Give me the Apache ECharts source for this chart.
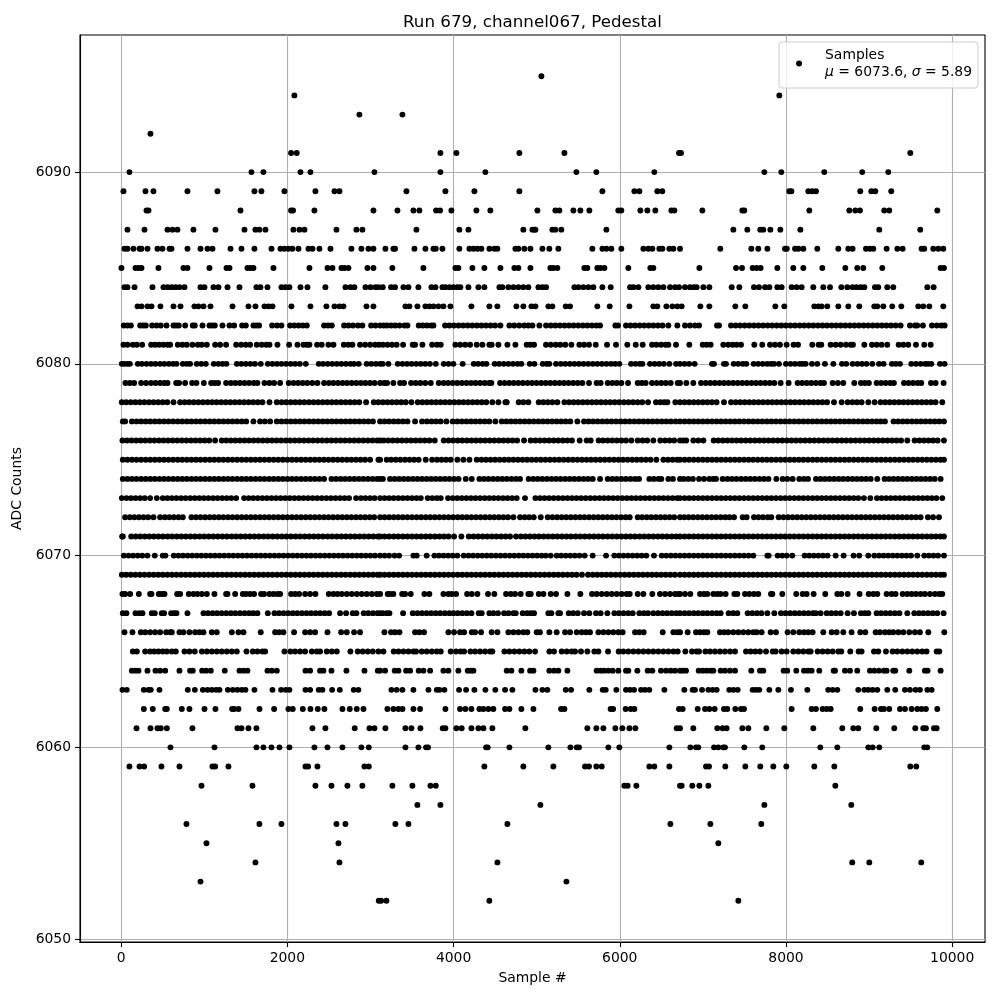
<!DOCTYPE html>
<html><head><meta charset="utf-8">
<style>html,body{margin:0;padding:0;background:#fff}#c{width:1000px;height:1000px}</style>
<script src="https://cdn.jsdelivr.net/npm/echarts@6/dist/echarts.min.js"></script>
</head><body><div id="c"></div>
<script>
const yTicks=[6050,6060,6070,6080,6090];
const xTicks=[0,2000,4000,6000,8000,10000];
const s6095=[5057];
const s6094=[2085,7920];
const s6093=[2867,3385];
const s6092=[353];
const s6091=[2045,2113,3842,4034,4792,5334,6713,6737,9496];
const s6090=[100,1568,1712,2158,2278,3048,3842,4383,5478,5718,6416,7740,7944,8461,8918,9231];
const s6089=[28,293,389,798,1159,1604,1688,1965,2338,2567,2627,3433,3902,4251,4792,5791,6176,6236,6452,6512,8040,8065,8269,8317,8361,8894,9027,9075,9267];
const s6088=[305,329,1436,2045,2069,2326,3036,3325,3517,3589,3790,3838,3974,4275,4443,5009,5225,5273,5442,5526,5634,5983,6019,6248,6332,6428,6621,6657,6994,7475,7499,8281,8762,8834,8890,9183,9243,9821];
const s6087=[76,281,558,618,678,870,1135,1484,1616,1664,1737,2073,2146,2206,2591,2831,2903,3553,4070,4179,4840,4949,4973,4985,5189,5225,5297,5839,7367,7535,7691,7727,7812,7932,8173,9123,9616];
const s6086=[40,76,148,221,245,317,437,497,582,606,798,955,1039,1099,1316,1448,1604,1809,1917,1965,2013,2061,2134,2254,2302,2386,2519,2771,2891,2976,3036,3180,3276,3296,3529,3661,3758,3786,3866,4070,4191,4239,4287,4335,4431,4491,4527,4744,4780,4852,4925,5069,5153,5261,5670,5791,5839,5899,6019,6284,6344,6392,6476,6513,6597,6645,6725,7210,7583,7667,7776,7988,8010,8109,8149,8209,8377,8630,8750,8802,8963,9011,9051,9211,9340,9404,9632,9664,9773,9833,9893];
const s6085=[4,173,209,245,449,750,798,1063,1268,1304,1520,1556,1592,1833,2266,2483,2543,2651,2687,2735,2964,3036,3264,3637,4022,4058,4227,4371,4564,4732,4780,4925,5165,5201,5249,5574,5610,5730,5767,5815,6103,6368,6404,6958,7399,7471,7599,7647,7695,7896,8088,8209,8437,8714,8858,8930,9159,9861,9901];
const s6084=[40,76,161,377,509,558,606,654,702,762,955,1003,1111,1171,1280,1424,1628,1676,1761,1929,1977,2025,2158,2242,2458,2699,2759,2807,2940,3000,3060,3096,3148,3248,3296,3397,3457,3577,3734,3782,3866,3902,3950,3998,4046,4082,4179,4299,4371,4552,4588,4660,4720,4780,4840,4900,5021,5069,5113,5454,5502,5562,5622,5682,5791,5891,6124,6164,6224,6344,6404,6464,6525,6605,6665,6713,6785,6845,6893,6925,7006,7078,7347,7439,7615,7675,7748,7800,7896,7948,8068,8128,8189,8329,8449,8530,8666,8738,8802,8850,8898,8943,9071,9111,9219,9291,9701,9777];
const s6083=[197,245,317,365,473,630,714,882,930,991,1075,1340,1532,1616,1725,1773,1821,2049,2278,2470,2567,2627,2675,2952,3036,3421,3469,3565,3661,3710,3758,3818,3878,3962,4215,4431,4527,4756,4840,4937,4985,5141,5189,5350,5402,5730,5879,6116,6404,6452,6561,6633,6693,6745,6970,7078,7391,7511,7872,7980,8341,8389,8429,8497,8630,8750,8882,9063,9099,9171,9279,9388,9592,9652,9725,9893];
const s6082=[32,75,117,229,265,297,373,425,477,546,630,660,694,770,862,886,979,1063,1095,1127,1219,1304,1360,1456,1500,1592,1625,1660,1817,1875,1929,2033,2085,2135,2185,2234,2442,2490,2535,2683,2735,2790,2850,2903,3008,3060,3116,3160,3200,3250,3300,3350,3410,3445,3581,3630,3680,3730,3758,3898,3950,4005,4060,4115,4170,4225,4280,4335,4390,4445,4500,4564,4672,4730,4790,4850,4900,4949,5033,5113,5170,5225,5280,5335,5390,5445,5500,5555,5610,5665,5720,5763,5947,5979,6075,6130,6185,6240,6295,6350,6405,6460,6515,6585,6693,6785,6845,6905,6954,7170,7194,7339,7395,7450,7505,7560,7615,7670,7725,7780,7835,7890,7945,8000,8055,8110,8165,8220,8275,8330,8385,8440,8495,8550,8605,8660,8715,8770,8825,8880,8935,8990,9045,9100,9155,9210,9265,9320,9380,9492,9552,9580,9648,9757,9815,9870,9909];
const s6081=[28,76,141,189,253,361,409,457,509,558,590,682,738,790,858,923,971,1031,1131,1191,1263,1384,1444,1500,1552,1632,1692,1745,1785,1881,2021,2122,2194,2234,2266,2358,2414,2495,2555,2679,2735,2783,2875,2936,2996,3056,3104,3150,3205,3260,3315,3393,3509,3537,3625,3742,3800,3846,4022,4080,4140,4199,4279,4347,4431,4459,4540,4648,4744,4880,4925,4969,5113,5170,5230,5285,5345,5418,5514,5570,5630,5711,5847,5955,6091,6192,6276,6388,6440,6495,6550,6585,6677,6837,6998,7046,7094,7246,7306,7359,7407,7459,7619,7715,7808,7868,7928,8008,8092,8145,8317,8393,8425,8537,8598,8658,8722,8778,8806,8943,9035,9091,9151,9219,9356,9412,9472,9564,9664,9741];
const s6080=[8,40,75,105,200,250,305,360,412,468,520,575,625,666,742,790,830,910,965,1019,1115,1170,1222,1267,1392,1445,1500,1555,1610,1680,1765,1820,1875,1930,1985,2040,2095,2150,2222,2378,2430,2485,2540,2595,2650,2705,2760,2803,2859,2955,3010,3065,3116,3148,3216,3329,3385,3440,3495,3550,3605,3660,3715,3786,3882,3940,3998,4110,4243,4295,4350,4395,4495,4550,4605,4660,4715,4770,4816,4917,4973,5073,5120,5153,5233,5290,5345,5400,5455,5510,5565,5620,5675,5730,5785,5840,5895,5945,5995,6136,6190,6240,6272,6364,6420,6475,6530,6597,6677,6725,6780,6835,6901,7110,7134,7254,7278,7371,7425,7480,7523,7611,7665,7720,7775,7820,7856,7916,8000,8055,8110,8165,8200,8237,8313,8377,8469,8570,8674,8726,8802,8860,8915,8970,9039,9119,9175,9275,9323,9372,9508,9565,9620,9675,9710,9749,9853,9909];
const s6079=[52,105,157,241,300,360,415,470,520,558,662,698,770,854,906,995,1083,1125,1167,1263,1320,1375,1430,1485,1540,1595,1640,1725,1785,1841,1913,2017,2075,2130,2185,2240,2300,2362,2442,2500,2555,2610,2665,2720,2775,2830,2885,2940,2995,3050,3116,3165,3200,3276,3357,3405,3489,3545,3600,3660,3726,3822,3880,3935,3990,4045,4100,4155,4210,4265,4320,4375,4430,4455,4560,4615,4670,4725,4780,4835,4890,4945,5000,5055,5110,5165,5220,5275,5330,5385,5440,5495,5550,5630,5722,5770,5855,5910,5965,6020,6100,6216,6265,6312,6388,6445,6500,6555,6613,6697,6725,6801,6885,6978,7035,7090,7145,7200,7255,7310,7365,7420,7475,7530,7585,7640,7695,7750,7805,7860,7936,8032,8140,8195,8250,8305,8360,8415,8457,8562,8625,8690,8822,8902,8950,8998,9091,9145,9200,9255,9299,9420,9475,9530,9585,9628,9745,9801,9897];
const s6078=[8,60,115,170,225,280,335,390,445,500,555,630,710,765,820,875,930,985,1040,1095,1150,1205,1260,1315,1370,1425,1480,1535,1590,1645,1700,1785,1873,1930,1985,2040,2095,2150,2205,2260,2315,2370,2425,2480,2535,2590,2645,2700,2755,2810,2865,2948,3040,3095,3150,3205,3260,3315,3370,3425,3493,3569,3625,3680,3735,3790,3845,3900,3955,4010,4065,4120,4175,4230,4285,4340,4395,4467,4540,4624,4640,4784,4840,4900,5025,5080,5135,5190,5249,5334,5390,5445,5500,5555,5610,5665,5720,5775,5830,5885,5940,5995,6050,6105,6160,6215,6270,6340,6436,6490,6535,6573,6669,6725,6780,6835,6890,6945,7000,7055,7110,7165,7254,7339,7395,7450,7505,7560,7615,7670,7725,7780,7835,7890,7945,8000,8055,8110,8165,8220,8275,8330,8385,8440,8495,8578,8670,8742,8800,8855,8910,8991,9067,9139,9195,9250,9305,9360,9415,9470,9525,9580,9635,9690,9745,9800,9881];
const s6077=[20,48,129,185,240,295,350,405,460,515,570,625,680,735,790,845,900,955,1010,1065,1120,1175,1230,1285,1340,1395,1450,1505,1592,1672,1730,1793,1873,1930,1985,2040,2095,2150,2205,2260,2315,2370,2425,2480,2535,2590,2645,2700,2755,2810,2865,2920,2975,3030,3116,3170,3225,3280,3335,3390,3445,3537,3621,3680,3735,3790,3845,3914,3990,4045,4100,4155,4210,4265,4320,4375,4430,4503,4580,4635,4690,4745,4800,4855,4910,4965,5020,5075,5130,5185,5240,5295,5350,5405,5490,5570,5625,5680,5735,5790,5845,5900,5955,6010,6065,6120,6175,6230,6285,6340,6395,6450,6505,6560,6615,6673,6725,6780,6835,6890,6945,7000,7055,7110,7165,7220,7275,7330,7385,7440,7495,7550,7605,7660,7715,7770,7825,7880,7935,7990,8045,8100,8155,8210,8265,8320,8375,8430,8485,8540,8595,8650,8705,8760,8815,8870,8925,8980,9035,9090,9140,9191,9295,9350,9405,9460,9515,9570,9625,9680,9735,9790,9845,9901];
const s6076=[16,70,125,180,235,290,345,400,455,510,565,620,675,730,785,840,895,950,1005,1060,1131,1211,1265,1320,1375,1430,1485,1540,1595,1650,1705,1760,1815,1870,1925,1980,2035,2090,2145,2200,2255,2310,2365,2420,2475,2530,2585,2640,2695,2750,2805,2860,2915,2970,3025,3080,3116,3160,3215,3270,3325,3380,3435,3490,3545,3600,3655,3710,3774,3882,3940,3995,4050,4105,4160,4215,4270,4325,4380,4435,4490,4545,4600,4655,4710,4765,4848,4928,4985,5040,5095,5150,5205,5260,5315,5370,5425,5518,5602,5650,5746,5800,5855,5910,5965,6020,6075,6140,6216,6275,6330,6404,6488,6545,6600,6655,6725,6765,6800,6885,6945,7006,7130,7185,7240,7295,7350,7405,7460,7515,7570,7625,7680,7735,7790,7845,7900,7955,8010,8065,8120,8175,8230,8285,8340,8395,8450,8505,8560,8615,8670,8725,8780,8835,8890,8945,9000,9055,9110,9165,9220,9275,9330,9385,9460,9548,9605,9660,9715,9770,9825,9901];
const s6075=[20,75,130,185,240,295,350,405,460,515,570,625,680,735,790,845,900,955,1010,1065,1120,1175,1230,1285,1340,1395,1450,1505,1560,1615,1670,1725,1780,1835,1890,1945,2000,2055,2110,2165,2220,2275,2330,2385,2440,2495,2550,2605,2660,2715,2770,2825,2880,2935,2996,3096,3116,3196,3250,3305,3360,3415,3470,3525,3580,3665,3742,3800,3855,3910,3965,4046,4118,4191,4279,4335,4390,4445,4500,4555,4610,4665,4720,4775,4830,4885,4940,4995,5050,5105,5160,5215,5270,5325,5380,5435,5490,5545,5600,5655,5710,5765,5820,5875,5930,5985,6040,6095,6150,6205,6260,6315,6370,6440,6525,6580,6635,6690,6725,6780,6835,6890,6945,7000,7055,7110,7165,7220,7275,7330,7385,7440,7495,7550,7605,7660,7715,7770,7825,7880,7935,7990,8045,8100,8155,8210,8265,8320,8375,8430,8485,8540,8595,8650,8705,8760,8815,8870,8925,8980,9035,9090,9145,9200,9255,9310,9365,9420,9475,9530,9585,9640,9695,9750,9805,9860,9901];
const s6074=[20,75,130,185,240,295,350,405,460,515,570,625,680,735,790,845,900,955,1010,1065,1120,1175,1230,1285,1340,1395,1450,1505,1560,1615,1670,1725,1780,1835,1890,1945,2000,2055,2110,2165,2220,2275,2330,2385,2442,2531,2585,2640,2695,2750,2805,2860,2915,2970,3025,3080,3116,3150,3236,3290,3345,3400,3455,3510,3565,3620,3675,3730,3785,3840,3895,3950,4005,4060,4147,4219,4311,4365,4420,4475,4530,4585,4640,4695,4750,4800,4904,4960,5015,5070,5125,5180,5235,5290,5345,5400,5455,5510,5565,5620,5675,5763,5855,5910,5965,6020,6075,6130,6185,6232,6356,6410,6465,6500,6585,6640,6725,6769,6825,6880,6954,7014,7078,7125,7158,7238,7295,7350,7405,7460,7515,7570,7625,7680,7735,7790,7884,7960,8016,8080,8160,8215,8265,8361,8415,8470,8525,8580,8635,8690,8745,8800,8855,8910,8965,9020,9099,9187,9240,9295,9350,9405,9460,9515,9570,9625,9680,9735,9790,9861];
const s6073=[8,65,120,175,230,285,349,429,501,555,610,665,720,775,830,885,940,995,1050,1105,1160,1215,1270,1325,1384,1480,1535,1590,1645,1700,1755,1810,1865,1920,1975,2030,2085,2140,2195,2250,2305,2360,2415,2470,2525,2580,2635,2690,2743,2827,2885,2940,2995,3050,3116,3170,3225,3280,3335,3390,3445,3500,3555,3606,3689,3745,3800,3846,3934,3990,4045,4100,4155,4210,4265,4320,4375,4430,4485,4540,4595,4650,4705,4760,4860,4985,5040,5095,5150,5205,5260,5315,5370,5425,5480,5535,5590,5645,5700,5755,5810,5865,5920,5975,6030,6085,6140,6195,6250,6305,6360,6415,6470,6525,6580,6635,6690,6725,6780,6835,6890,6945,7000,7055,7110,7165,7220,7275,7330,7385,7440,7495,7550,7605,7660,7715,7770,7825,7880,7935,7990,8045,8100,8155,8210,8265,8320,8375,8430,8485,8540,8595,8650,8705,8760,8815,8870,8938,9015,9095,9150,9205,9260,9315,9370,9425,9480,9535,9590,9645,9700,9755,9810,9881];
const s6072=[48,105,160,215,270,325,389,469,525,580,635,690,742,846,900,955,1010,1065,1120,1175,1230,1285,1340,1395,1450,1505,1560,1615,1670,1725,1780,1835,1890,1945,2000,2055,2110,2165,2220,2275,2330,2385,2440,2495,2550,2605,2660,2715,2770,2825,2880,2935,2990,3045,3116,3170,3225,3280,3335,3390,3445,3500,3555,3610,3665,3720,3775,3830,3885,3940,3995,4050,4105,4160,4215,4270,4325,4380,4435,4490,4545,4600,4655,4720,4800,4855,4910,4965,5049,5133,5190,5245,5300,5355,5410,5465,5520,5575,5630,5685,5740,5795,5850,5905,5960,6015,6070,6120,6216,6270,6325,6380,6435,6490,6545,6600,6655,6725,6777,6830,6885,6940,6995,7050,7105,7160,7215,7270,7320,7375,7479,7527,7615,7670,7725,7780,7824,7912,7970,8025,8080,8135,8190,8245,8300,8355,8410,8465,8520,8575,8630,8685,8740,8795,8850,8905,8960,9015,9070,9125,9180,9235,9290,9345,9400,9455,9510,9565,9620,9708,9770,9841];
const s6071=[12,20,121,175,230,285,340,395,450,505,560,615,670,725,780,835,890,945,1000,1055,1110,1165,1220,1275,1330,1385,1440,1495,1550,1605,1660,1715,1770,1825,1880,1935,1990,2045,2100,2155,2210,2265,2320,2375,2430,2485,2540,2595,2650,2705,2760,2815,2870,2925,2980,3035,3090,3116,3170,3225,3280,3335,3390,3445,3500,3555,3610,3665,3720,3775,3830,3885,3940,4006,4094,4183,4240,4295,4350,4405,4460,4515,4570,4625,4680,4752,4810,4865,4920,4975,5030,5085,5140,5195,5250,5305,5360,5415,5470,5525,5580,5635,5690,5745,5800,5855,5910,5965,6020,6075,6130,6185,6240,6295,6350,6405,6460,6515,6570,6625,6680,6725,6780,6835,6890,6945,7000,7055,7110,7165,7220,7275,7330,7385,7440,7495,7550,7605,7660,7715,7770,7825,7880,7935,7990,8045,8100,8155,8210,8265,8320,8375,8430,8485,8540,8595,8650,8705,8760,8815,8870,8925,8980,9035,9090,9145,9200,9255,9310,9365,9420,9475,9530,9585,9640,9695,9750,9805,9860,9901];
const s6070=[32,90,145,200,255,317,405,501,533,634,690,745,800,855,910,965,1020,1075,1130,1185,1240,1295,1350,1405,1460,1515,1570,1625,1680,1735,1790,1845,1900,1955,2010,2065,2120,2175,2230,2285,2340,2395,2450,2505,2560,2615,2670,2725,2780,2835,2890,2945,3000,3055,3116,3170,3225,3290,3345,3517,3557,3677,3770,3825,3880,3935,3990,4046,4122,4180,4235,4290,4345,4400,4455,4510,4565,4620,4675,4730,4785,4840,4895,4950,5005,5060,5109,5169,5241,5295,5350,5405,5460,5515,5578,5674,5835,5935,5990,6045,6100,6155,6210,6265,6320,6412,6505,6560,6615,6670,6725,6780,6835,6890,6945,7000,7055,7110,7165,7220,7275,7330,7385,7440,7495,7550,7607,7776,7792,7900,7955,8010,8076,8225,8280,8335,8390,8445,8500,8598,8694,8814,8882,8991,9063,9120,9175,9230,9285,9340,9395,9450,9505,9580,9664,9720,9775,9830,9901];
const s6069=[8,60,115,170,225,280,335,390,445,500,555,610,665,720,775,830,885,940,995,1050,1105,1160,1215,1270,1325,1380,1435,1490,1545,1600,1655,1710,1765,1820,1875,1930,1985,2040,2095,2150,2205,2260,2315,2370,2425,2480,2535,2590,2645,2700,2755,2810,2865,2920,2975,3030,3085,3116,3170,3225,3280,3335,3390,3445,3500,3555,3610,3665,3720,3775,3830,3885,3940,3995,4050,4105,4160,4215,4270,4325,4380,4435,4490,4545,4600,4655,4710,4765,4820,4875,4930,4985,5040,5095,5150,5205,5260,5315,5370,5425,5480,5545,5618,5675,5730,5785,5840,5895,5950,6005,6060,6115,6170,6225,6280,6335,6390,6445,6500,6555,6610,6665,6725,6780,6835,6890,6945,7000,7055,7110,7165,7220,7275,7330,7385,7440,7495,7550,7605,7660,7715,7770,7825,7880,7935,7990,8045,8100,8155,8210,8265,8320,8375,8430,8485,8540,8595,8650,8705,8760,8815,8870,8925,8980,9035,9090,9145,9200,9255,9310,9365,9420,9475,9530,9585,9640,9695,9750,9805,9860,9901];
const s6068=[16,48,108,213,349,365,453,489,522,674,710,814,870,918,971,1031,1123,1263,1280,1372,1464,1504,1552,1600,1684,1720,1785,1833,1881,1913,2045,2093,2142,2214,2274,2338,2499,2555,2603,2655,2715,2775,2835,2895,2955,3016,3076,3116,3208,3236,3276,3381,3417,3485,3649,3709,3878,3938,3978,4030,4163,4219,4287,4415,4491,4632,4688,4740,4808,4900,4929,5025,5081,5169,5233,5370,5526,5666,5722,5783,5843,5903,5963,6023,6083,6120,6216,6284,6392,6484,6545,6605,6665,6705,6725,6785,6849,6966,7014,7054,7126,7174,7214,7274,7379,7415,7507,7559,7615,7667,7820,7836,7956,8124,8201,8249,8333,8473,8618,8666,8742,8886,8995,9051,9099,9211,9271,9319,9404,9460,9512,9564,9620,9672,9733,9793,9845,9881];
const s6067=[20,64,173,221,257,369,405,489,517,602,638,666,798,991,1045,1100,1155,1210,1265,1320,1375,1430,1485,1540,1590,1640,1765,1845,1900,1955,2010,2065,2120,2175,2230,2285,2340,2395,2450,2503,2635,2707,2787,2831,2919,2975,3030,3085,3116,3148,3196,3228,3393,3509,3565,3620,3675,3730,3785,3840,3895,3950,3999,4050,4105,4160,4215,4303,4339,4431,4480,4535,4608,4660,4720,4748,4832,4885,4930,4969,5141,5177,5261,5281,5386,5440,5495,5570,5634,5714,5770,5851,5935,5990,6045,6103,6156,6236,6290,6340,6404,6460,6515,6570,6625,6680,6725,6780,6835,6890,6945,7000,7055,7110,7165,7214,7310,7365,7415,7539,7595,7650,7705,7776,7860,7940,7995,8050,8105,8160,8215,8270,8325,8357,8417,8490,8545,8600,8658,8742,8818,8902,8950,8991,9091,9145,9200,9255,9310,9365,9460,9544,9600,9655,9710,9765,9821,9897];
const s6066=[40,136,237,289,349,409,469,542,590,610,702,750,822,890,943,991,1091,1151,1332,1412,1472,1680,1853,1901,1953,2081,2214,2274,2334,2483,2647,2715,2803,2875,3168,3248,3296,3349,3537,3589,3645,3938,4006,4078,4127,4219,4259,4331,4459,4528,4660,4720,4780,4840,4888,5001,5040,5153,5241,5342,5402,5482,5542,5594,5642,5743,5803,5863,5923,5983,6035,6184,6236,6288,6517,6645,6693,6725,6817,6917,6966,7014,7054,7206,7258,7306,7367,7427,7487,7547,7607,7647,7707,7816,7880,8020,8088,8160,8217,8269,8321,8449,8550,8610,8690,8790,8894,8955,9079,9131,9191,9243,9291,9352,9412,9484,9552,9612,9713,9905];
const s6065=[141,189,289,349,397,449,501,550,610,658,762,822,886,971,1031,1091,1151,1211,1272,1332,1392,1508,1584,1640,1700,1733,1965,2037,2093,2154,2214,2294,2354,2394,2474,2535,2595,2759,2847,2907,2968,3028,3096,3156,3280,3337,3397,3457,3517,3549,3617,3677,3738,3798,3846,3966,4030,4086,4127,4203,4259,4319,4379,4439,4467,4612,4672,4732,4792,4852,4912,4981,5153,5209,5301,5362,5422,5462,5534,5610,5694,5743,5859,5987,6043,6103,6164,6224,6284,6344,6404,6464,6525,6585,6645,6697,6789,6869,6925,6954,7030,7086,7146,7206,7266,7327,7387,7519,7575,7631,7687,7760,7840,7876,7948,8008,8088,8149,8209,8269,8297,8381,8441,8501,8562,8630,8666,8774,8874,8910,9059,9111,9203,9283,9339,9400,9460,9520,9580,9640,9692,9813,9845];
const s6064=[129,169,209,317,413,469,530,702,830,862,975,1023,1079,1247,1424,1472,1520,1761,1813,1873,2218,2274,2394,2434,2531,2711,2928,3088,3116,3176,3292,3337,3429,3477,3581,3637,3718,3878,3938,4058,4171,4207,4239,4640,4696,4816,4921,4961,5153,5209,5261,5370,5722,5771,5811,5863,5915,5983,6075,6103,6212,6336,6392,6496,6557,6613,6665,6725,6757,6797,6950,6998,7046,7094,7126,7214,7266,7327,7387,7583,7687,7727,7972,8016,8124,8217,8265,8309,8401,8574,8590,8710,8770,8858,9011,9063,9119,9179,9211,9291,9315,9484,9672,9704,9861];
const s6063=[16,68,273,329,357,461,802,887,983,1039,1091,1143,1183,1284,1344,1400,1452,1496,1604,1821,1925,1981,2025,2218,2274,2378,2422,2539,2631,2799,2855,3252,3316,3385,3517,3698,3798,3830,3890,4066,4151,4251,4383,4503,4620,4708,4985,5069,5129,5350,5414,5634,5795,5831,5959,6075,6124,6172,6256,6304,6356,6537,6777,6877,6905,6990,7066,7118,7166,7318,7367,7419,7599,7639,7679,7800,7908,8060,8257,8509,8562,8618,8870,8943,8991,9043,9099,9219,9315,9432,9492,9560,9612,9701,9753];
const s6062=[273,381,530,550,730,822,1003,1135,1336,1360,1412,1665,1841,2013,2065,2186,2278,2366,2446,2663,2751,2835,2916,3204,3276,3337,3385,3517,3597,3902,4078,4143,4215,4311,4359,4419,4479,4620,4672,4816,4961,5294,5334,5890,5920,6071,6132,6176,6713,6757,6938,7026,7078,7142,7254,7294,7391,7459,7495,8068,8309,8361,8441,8490,8538,8894,9067,9143,9179,9243,9372,9432,9512,9580,9632,9684,9821];
const s6061=[185,353,437,477,550,858,1400,1448,1532,1628,2302,2458,2811,2988,3048,3180,3421,3493,3601,3870,3902,4034,4098,4215,4299,4359,4467,4864,5610,5718,5803,5947,6031,6116,6188,6685,6725,6885,7174,7238,7286,7475,7547,7764,7980,8329,8678,8810,8870,9087,9303,9556,9652,9684,9781,9813];
const s6060=[594,1123,1628,1712,1809,1905,2025,2326,2483,2663,2891,2980,3421,3577,3669,3693,4391,4411,4672,5141,5406,5482,5510,5863,5995,6597,6849,6917,6945,7134,7186,7246,7266,7499,7715,8413,8618,8991,9043,9123,9664,9700];
const s6059=[100,221,277,485,702,1099,1131,1291,2218,2250,2362,2928,2980,4371,4840,5201,5582,5630,5718,5783,6356,6416,6597,7038,7074,7270,7511,7691,7848,8004,8341,8582,9496,9568];
const s6058=[967,1580,2338,2531,2723,2903,3264,3505,3722,3786,6055,6095,6200,6725,6745,6873,6958,7066,8594];
const s6057=[3565,3842,5045,7740,8786];
const s6056=[786,1664,1929,2591,2699,3300,3457,4648,6609,7090,7703];
const s6055=[1027,2615,7186];
const s6054=[1616,2627,4528,8798,9003,9628];
const s6053=[955,5358];
const s6052=[3100,3128,3192,4431,7427];

const rows=[[6095,s6095],[6094,s6094],[6093,s6093],[6092,s6092],[6091,s6091],[6090,s6090],[6089,s6089],[6088,s6088],[6087,s6087],[6086,s6086],[6085,s6085],[6084,s6084],[6083,s6083],[6082,s6082],[6081,s6081],[6080,s6080],[6079,s6079],[6078,s6078],[6077,s6077],[6076,s6076],[6075,s6075],[6074,s6074],[6073,s6073],[6072,s6072],[6071,s6071],[6070,s6070],[6069,s6069],[6068,s6068],[6067,s6067],[6066,s6066],[6065,s6065],[6064,s6064],[6063,s6063],[6062,s6062],[6061,s6061],[6060,s6060],[6059,s6059],[6058,s6058],[6057,s6057],[6056,s6056],[6055,s6055],[6054,s6054],[6053,s6053],[6052,s6052]];
const points=[];
rows.forEach(([v,xs])=>xs.forEach(x=>points.push([x,v])));

const F='"DejaVu Sans"';
const axisCommon={
  axisLine:{show:true,onZero:false,lineStyle:{color:'#000',width:1.1}},
  axisTick:{show:true,length:5,lineStyle:{color:'#000',width:1.1}},
  splitLine:{show:true,lineStyle:{color:'#b0b0b0',width:1.1}},
  nameLocation:'middle',
  nameTextStyle:{fontFamily:F,fontSize:13.9,color:'#000'}
};
const plain=v=>String(v);
const chart=echarts.init(document.getElementById('c'),null,{renderer:'canvas'});
chart.setOption({
  animation:false,
  backgroundColor:'#fff',
  title:{text:'Run 679, channel067, Pedestal',left:527.5,top:9,textAlign:'center',
    textStyle:{fontFamily:F,fontSize:16.7,fontWeight:'normal',color:'#000'}},
  grid:{show:true,borderColor:'#000',borderWidth:1.1,backgroundColor:'transparent',left:80,right:15,top:35,bottom:58},
  xAxis:Object.assign({},axisCommon,{type:'value',min:-495,max:10395,name:'Sample #',nameGap:29,
    axisLabel:{fontFamily:F,fontSize:13.9,color:'#000',margin:9,customValues:xTicks,formatter:plain},
    axisTick:Object.assign({},axisCommon.axisTick,{customValues:xTicks})}),
  yAxis:Object.assign({},axisCommon,{type:'value',min:6049.85,max:6097.15,name:'ADC Counts',nameGap:41,
    axisLabel:{fontFamily:F,fontSize:13.9,color:'#000',margin:9,customValues:yTicks,formatter:plain},
    axisTick:Object.assign({},axisCommon.axisTick,{customValues:yTicks})}),
  legend:{show:true,right:22,top:42,orient:'vertical',padding:[6,6,9,17],
    backgroundColor:'rgba(255,255,255,0.8)',borderColor:'#ccc',borderWidth:1,borderRadius:3,
    itemWidth:10,itemHeight:6,itemGap:0,
    data:[{name:'Samples',icon:'circle'}],
    formatter:function(){return '{a|Samples}\n{i|μ}{a| = 6073.6, }{i|σ}{a| = 5.89}';},
    textStyle:{fontFamily:F,fontSize:13.9,color:'#000',padding:[0,0,0,16],
      rich:{a:{fontFamily:F,fontSize:13.9,lineHeight:17,color:'#000'},i:{fontFamily:F,fontSize:13.9,fontStyle:'italic',lineHeight:17,color:'#000'}}}},
  series:[{name:'Samples',type:'scatter',data:points,symbol:'circle',symbolSize:5.9,
    itemStyle:{color:'#000',opacity:1},large:false,progressive:0,silent:true,clip:false,z:3}]
});
</script></body></html>
